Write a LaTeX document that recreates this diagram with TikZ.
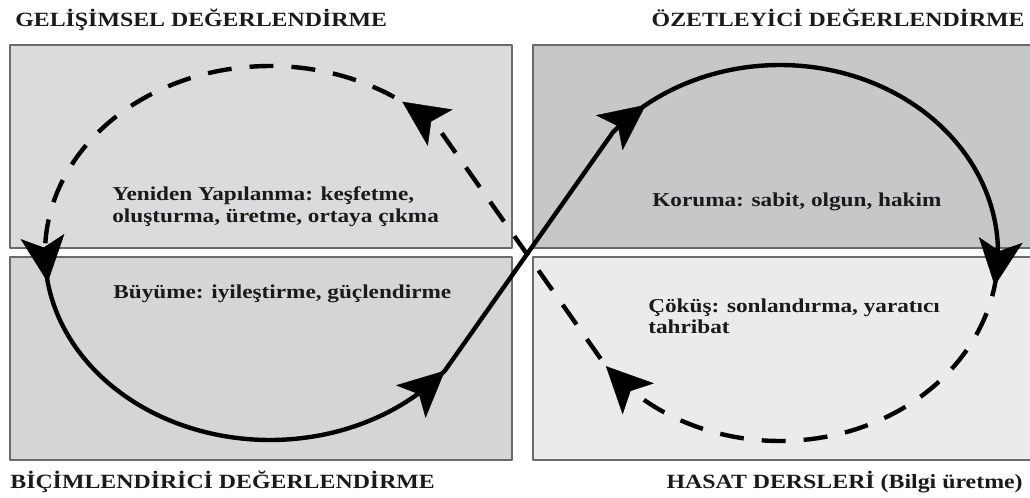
\documentclass[tikz,border=0pt]{standalone}
\usepackage{fontspec}
\setmainfont{Liberation Serif}[FakeStretch=1.18]
\usetikzlibrary{arrows.meta}
\definecolor{panelA}{HTML}{DADBDC}
\definecolor{panelB}{HTML}{C6C7C9}
\definecolor{panelC}{HTML}{D4D5D7}
\definecolor{panelD}{HTML}{EBEBEB}
\definecolor{panelline}{HTML}{6A6A6A}
\definecolor{txt}{HTML}{1C1A18}
\begin{document}
\begin{tikzpicture}[x=0.02cm, y=-0.02cm, line join=round,
	font=\bfseries\fontsize{11.2}{12.5}\selectfont,
	panel/.style={draw=panelline, line width=1pt},
	loopline/.style={line width=2.5pt},
	dashline/.style={loopline, dash pattern=on 0.48cm off 0.36cm},
	tip/.style={line width=0.2pt, -{Stealth[length=0.92cm,width=0.88cm,inset=0.22cm]}},
	heading/.style={inner sep=0pt, text=txt, font=\bfseries\fontsize{11.5}{13}\selectfont},
	boxtext/.style={inner sep=0pt, text=txt, align=left}]
	\useasboundingbox (0,0) rectangle (1030,497);
	\def\lcx{270} \def\lcy{253} \def\lrx{225} \def\lry{187}
	\def\rcx{780} \def\rcy{253} \def\rrx{218} \def\rry{188}
	% four panels
	\draw[panel, fill=panelA] (10,45) rectangle (512,248);
	\draw[panel, fill=panelB] (533,45) rectangle (1034,248);
	\draw[panel, fill=panelC] (10,257) rectangle (512,460);
	\draw[panel, fill=panelD] (533,257) rectangle (1034,460);
	% headings
	\node[heading, anchor=base west] (gelisim) at (15,27) {GELİŞİMSEL DEĞERLENDİRME};
	\node[heading, anchor=base east] (ozet) at (1025,27) {ÖZETLEYİCİ DEĞERLENDİRME};
	\node[heading, anchor=base west] (bicim) at (10,488) {BİÇİMLENDİRİCİ DEĞERLENDİRME};
	\node[heading, anchor=base east] (hasat) at (1023,488) {HASAT DERSLERİ (Bilgi üretme)};
	% panel texts
	\node[boxtext, anchor=north west] (yeniden) at (112,186) {Yeniden Yapılanma: keşfetme,\\oluşturma, üretme, ortaya çıkma};
	\node[boxtext, anchor=base west] (buyume) at (113,298) {Büyüme: iyileştirme, güçlendirme};
	\node[boxtext, anchor=base west] (koruma) at (652,206) {Koruma: sabit, olgun, hakim};
	\node[boxtext, anchor=north west] (cokus) at (648,298) {Çöküş: sonlandırma, yaratıcı\\tahribat};
	% where the loops meet the crossing lines
	\coordinate (leftin) at ({\lcx+\lrx*cos(-41)},{\lcy+\lry*sin(-41)});
	\coordinate (leftout) at ({\lcx+\lrx*cos(39)},{\lcy+\lry*sin(39)});
	\coordinate (rightin) at ({\rcx+\rrx*cos(220)},{\rcy+\rry*sin(220)});
	\coordinate (rightout) at ({\rcx+\rrx*cos(143)},{\rcy+\rry*sin(143)});
	% dashed half
	\draw[dashline] plot[domain=366:503, samples=100] ({\rcx+\rrx*cos(\x)},{\rcy+\rry*sin(\x)})
		-- (leftin) -- plot[domain=41:186, samples=100] ({\lcx+\lrx*cos(-\x)},{\lcy+\lry*sin(-\x)});
	% solid half
	\draw[loopline] plot[domain=184:321, samples=100] ({\lcx+\lrx*cos(-\x)},{\lcy+\lry*sin(-\x)})
		-- (rightin) -- plot[domain=220:368, samples=100] ({\rcx+\rrx*cos(\x)},{\rcy+\rry*sin(\x)});
	% arrow heads on the loops
	\foreach \cx/\cy/\rx/\ry/\a/\b in {270/253/225/187/-47/-54, 270/253/225/187/-182/-189,
		270/253/225/187/-314/-321, 780/253/218/188/225/232,
		780/253/218/188/363/370, 780/253/218/188/496/503}
		\draw[tip] ({\cx+\rx*cos(\a)},{\cy+\ry*sin(\a)}) -- ({\cx+\rx*cos(\b)},{\cy+\ry*sin(\b)});
\end{tikzpicture}
\end{document}
